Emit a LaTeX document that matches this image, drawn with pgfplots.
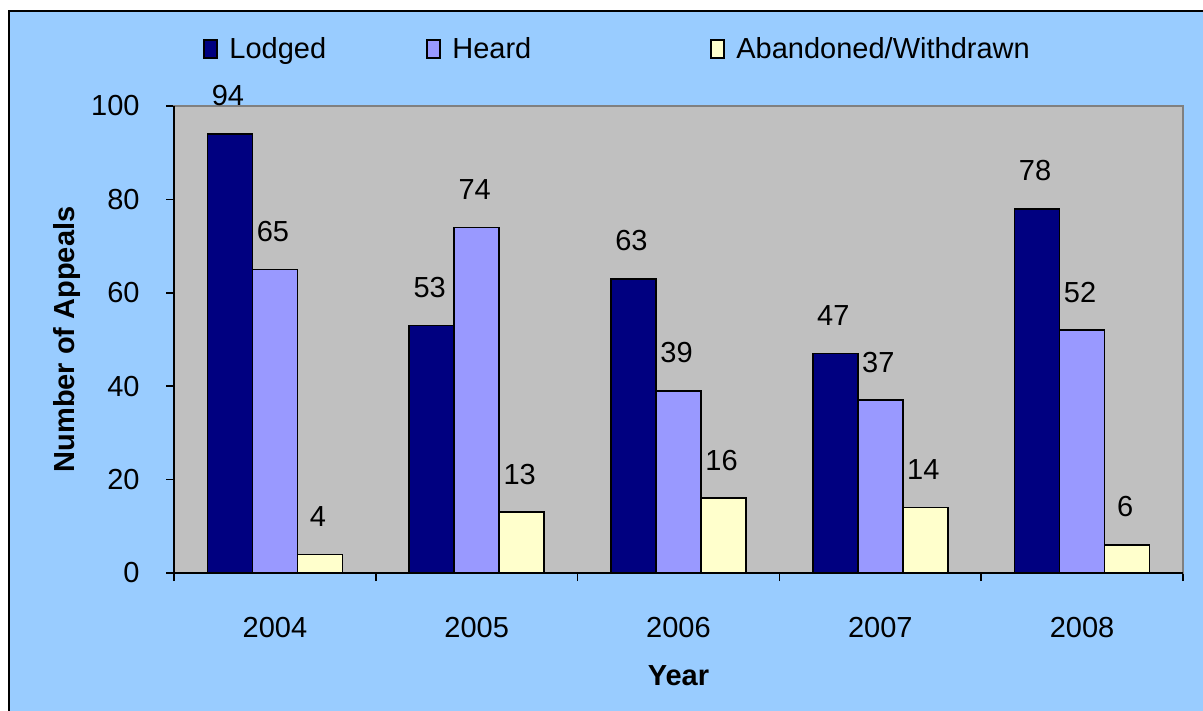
\documentclass[border=0pt]{standalone}
\usepackage{fontspec}
\setmainfont{Liberation Sans}
\usepackage{pgfplots}
\pgfplotsset{compat=1.18}
\definecolor{bgblue}{HTML}{99CCFF}
\definecolor{plotgray}{HTML}{C0C0C0}
\definecolor{bordergray}{HTML}{808080}
\definecolor{lodged}{HTML}{000080}
\definecolor{heard}{HTML}{9999FF}
\definecolor{aband}{HTML}{FFFFCC}
\begin{document}
\fontsize{14.5}{17}\selectfont
\begin{tikzpicture}
\path[use as bounding box] (0,0) rectangle (601.5pt,355.5pt);
\fill[white] (0,0) rectangle (601.5pt,355.5pt);
\fill[bgblue] (4.5pt,0) rectangle (601.5pt,350pt);
\draw[line width=1pt] (4.5pt,0) -- (4.5pt,350pt) -- (601.5pt,350pt);
\begin{axis}[
  at={(87pt,69pt)}, anchor=south west,
  scale only axis, width=504.5pt, height=233.5pt,
  ybar=0pt, bar width=0.223,
  xmin=-0.5, xmax=4.5, ymin=0, ymax=100,
  xtick={0,1,2,3,4}, xticklabels={2004,2005,2006,2007,2008},
  minor xtick={-0.5,0.5,1.5,2.5,3.5,4.5},
  major x tick style={draw=none},
  ytick={0,20,40,60,80,100},
  xtick pos=bottom, ytick pos=left,
  tick align=outside, major tick length=4pt, minor tick length=4pt,
  tick style={black, line width=0.8pt},
  axis background/.style={fill=plotgray},
  axis line style={draw=bordergray, line width=1pt},
  clip=false,
  /pgf/number format/assume math mode=true,
  xticklabel style={anchor=center, inner sep=0pt, yshift=-23.5pt},
  yticklabel style={anchor=east, inner sep=0pt, xshift=-13pt},
  nodes near coords,
  nodes near coords style={anchor=south, inner sep=0pt, yshift=13.5pt, xshift=-1pt, text=black},
  xlabel={\bfseries Year},
  ylabel={\bfseries Number of Appeals},
  every axis x label/.style={at={([yshift=-51.5pt]axis description cs:0.5,0)}, anchor=center},
  every axis y label/.style={at={([xshift=-53.5pt]axis description cs:0,0.5)}, rotate=90, anchor=center},
  legend columns=3,
  legend style={at={(axis description cs:0.0228,1.12)}, anchor=west, draw=none, fill=none,
    /tikz/every even column/.style={column sep=0pt}, nodes={inner sep=0pt}},
  legend image code/.code={\draw[#1, line width=1pt] (0pt,-4pt) rectangle (6.5pt,5pt);},
]
\addplot[fill=lodged, draw=black, line width=0.8pt] coordinates {(0,94) (1,53) (2,63) (3,47) (4,78)};
\addplot[fill=heard, draw=black, line width=0.8pt] coordinates {(0,65) (1,74) (2,39) (3,37) (4,52)};
\addplot[fill=aband, draw=black, line width=0.8pt] coordinates {(0,4) (1,13) (2,16) (3,14) (4,6)};
\legend{\makebox[104pt][l]{\hspace{5.5pt}Lodged},\makebox[134.5pt][l]{\hspace{5.5pt}Heard},\hspace{5.5pt}Abandoned/Withdrawn}
\draw[black, line width=1pt] (axis description cs:0,1) -- (axis description cs:0,0) -- (axis description cs:1,0);
\end{axis}
\end{tikzpicture}
\end{document}
